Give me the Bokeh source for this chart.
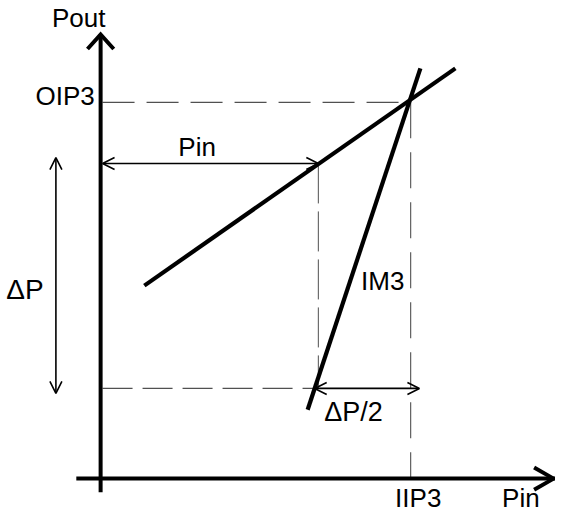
from bokeh.plotting import figure
from bokeh.models import Range1d, Arrow, OpenHead, ColumnDataSource
from bokeh.core.properties import value
from bokeh.embed import file_html
from bokeh.resources import INLINE
import numpy as np

# ---- diagram values (diagram units; y grows upward) ----
axis_x = 103            # position of the Pout axis
axis_y = 37             # position of the Pin axis
x_axis_span = [78, 571]
y_axis_span = [23, 495]

fund_x = [148, 468]     # fundamental (slope 1 in dB)
fund_y = [236, 460]
im3_x = [316, 432]      # third-order intermod (slope 3 in dB)
im3_y = [108, 460]

oip3_level = 425
iip3_level = 422
pin_level = 362
pin_point = 327
dp2_level = 130
dp2_right = 431
dp_x = 57
dp_span = [125, 368]

label_text = ["Pout", "OIP3", "Pin", "IM3", "\u0394P", "\u0394P/2", "IIP3", "Pin"]
label_x = [53, 97, 183, 371, 6, 333, 406, 516]
label_y = [512, 432, 379, 241, 232, 106, 17, 17]
label_align = ["left", "right", "left", "left", "left", "left", "left", "left"]
label_size = ["26px", "26px", "26px", "26px", "28px", "27px", "26px", "26px"]

p = figure(width=555, height=514, x_range=Range1d(0, 571), y_range=Range1d(0, 530),
           output_backend="svg", toolbar_location=None, min_border=0)
p.axis.visible = False
p.grid.visible = False
p.outline_line_color = None
p.background_fill_color = "white"
p.border_fill_color = "white"

dash_col = "#505050"
# dashed guide lines
p.line([axis_x + 2, iip3_level], [oip3_level, oip3_level], line_color=dash_col,
       line_width=1.3, line_dash="32 12")
p.line([iip3_level, iip3_level], [oip3_level, axis_y], line_color=dash_col,
       line_width=1.1, line_dash="36 14")
p.line([pin_point, pin_point], [pin_level, dp2_level], line_color=dash_col,
       line_width=1.0, line_dash="40 8")
im3_slope = (im3_y[1] - im3_y[0]) / (im3_x[1] - im3_x[0])
dp2_left = im3_x[0] + (dp2_level - im3_y[0]) / im3_slope
p.line([axis_x + 2, dp2_left], [dp2_level, dp2_level], line_color=dash_col,
       line_width=1.1, line_dash="30 10")

# axes
p.line(x_axis_span, [axis_y, axis_y], line_color="black", line_width=4)
p.line([axis_x, axis_x], y_axis_span, line_color="black", line_width=4)

def head(tip, direction, length, half):
    d = np.array(direction, float); d /= np.hypot(*d)
    n = np.array([-d[1], d[0]])
    t = np.array(tip, float)
    base = t - d * length
    a = base + n * half
    b = base - n * half
    return [a[0], t[0], b[0]], [a[1], t[1], b[1]]

hx1, hy1 = head((axis_x, y_axis_span[1]), (0, 1), 15, 13.5)
hx2, hy2 = head((x_axis_span[1] - 2, axis_y), (1, 0), 20, 11.5)
p.multi_line([hx1, hx2], [hy1, hy2], line_color="black", line_width=4,
             line_join="miter")

# characteristic lines
p.line(fund_x, fund_y, line_color="black", line_width=4.2)
p.line(im3_x, im3_y, line_color="black", line_width=4.2)

# thin arrows
def arrow(x0, y0, x1, y1, both=True):
    p.add_layout(Arrow(x_start=x0, y_start=y0, x_end=x1, y_end=y1,
                       line_width=1.6, line_color="black",
                       end=OpenHead(size=12, line_width=1.6, line_color="black"),
                       start=OpenHead(size=12, line_width=1.6, line_color="black") if both else None))

arrow(axis_x + 2, pin_level, pin_point, pin_level)
arrow(dp2_left, dp2_level, dp2_right, dp2_level)
arrow(dp_x, dp_span[0], dp_x, dp_span[1])

src = ColumnDataSource(dict(x=label_x, y=label_y, text=label_text,
                            align=label_align, size=label_size))
p.text(x="x", y="y", text="text", source=src, text_align="align",
       text_font_size="size", text_baseline="alphabetic",
       text_font=value("Liberation Sans"), text_color="black")

open("out.html", "w").write(file_html(p, INLINE))
